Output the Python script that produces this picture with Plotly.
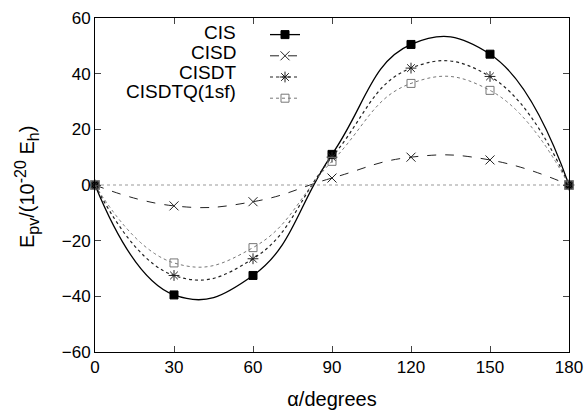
import plotly.graph_objects as go

alpha = [0, 30, 60, 90, 120, 150, 180]
cis = [0, -39.5, -32.5, 11, 50.5, 47, 0]
cisd = [0, -7.5, -6, 2.5, 10, 9, 0]
cisdt = [0, -32.5, -26.5, 10, 42, 39, 0]
cisdtq = [0, -28, -22.5, 8.5, 36.5, 34, 0]
names = ["CIS", "CISD", "CISDT", "CISDTQ(1sf)"]

series = [
    (cis, "square", "solid", "black", 1.3, 8),
    (cisd, "x-thin-open", "dash", "#222", 1.0, 9),
    (cisdt, "asterisk-open", "dot", "#222", 1.2, 9),
    (cisdtq, "square-open", "dot", "#777", 1.0, 8),
]

# screen target: plot area x 95..569, y 18..352 (body margin removed below)
W, H = 587, 413
L, T = 95, 18
pw, ph = 474, 334
R = W - L - pw
B = H - T - ph


def py2paper(py):
    return (T + ph - py) / ph


def px2paper(px):
    return (px - L) / pw


FAM = "Liberation Sans, Arial, sans-serif"

fig = go.Figure()
for name, (ys, sym, dash, col, w, ms) in zip(names, series):
    fig.add_trace(go.Scatter(
        x=alpha, y=ys, name=" ", legendgroup=name, hovertext=name,
        mode="lines+markers", cliponaxis=False,
        line=dict(color=col, width=w, dash=dash, shape="spline", smoothing=1.3),
        marker=dict(symbol=sym, size=ms, color="black" if sym == "square" else col,
                    line=dict(color="#444" if name == "CISDTQ(1sf)" else "black", width=1)),
    ))

fig.add_shape(type="line", x0=0, x1=180, y0=0, y1=0, xref="x", yref="y",
              line=dict(color="#999", width=1, dash="dot"), layer="below")

# legend labels (right-aligned, left of the samples, as in the reference)
row_px = [33, 52, 72, 91]
for name, py in zip(names, row_px):
    fig.add_annotation(text=name, xref="paper", yref="paper",
                       x=px2paper(238), y=py2paper(py),
                       xanchor="right", yanchor="middle", showarrow=False,
                       font=dict(size=19, family=FAM))

# y-axis title
fig.add_annotation(
    text=("E<sub><span style='font-size:16px'>pv</span></sub>/(10"
          "<sup><span style='font-size:16px'>-20</span></sup> "
          "E<sub><span style='font-size:16px'>h</span></sub>)"),
    xref="paper", yref="paper", x=px2paper(27), y=py2paper(187),
    xanchor="center", yanchor="middle", textangle=-90,
    showarrow=False, font=dict(size=20, family=FAM))

fig.update_layout(
    width=W, height=H,
    margin=dict(l=L, r=R, t=T, b=B, autoexpand=False),
    plot_bgcolor="white", paper_bgcolor="white",
    font=dict(family=FAM, size=17, color="black"),
    showlegend=True,
    legend=dict(x=px2paper(265), y=py2paper(19), xanchor="left", yanchor="top",
                bgcolor="rgba(0,0,0,0)", font=dict(size=14), itemwidth=30,
                tracegroupgap=0),
)
fig.update_xaxes(range=[0, 180], tickvals=[0, 30, 60, 90, 120, 150, 180],
                 ticks="inside", ticklen=6, mirror="ticks", showline=True,
                 linecolor="black", linewidth=1, showgrid=False, zeroline=False,
                 automargin=False, ticklabeloverflow="allow",
                 title=dict(text="α/degrees", font=dict(size=20)))
fig.update_yaxes(range=[-60, 60], tickvals=[-60, -40, -20, 0, 20, 40, 60],
                 ticks="inside", ticklen=6, mirror="ticks", showline=True,
                 linecolor="black", linewidth=1, showgrid=False, zeroline=False,
                 automargin=False, ticklabeloverflow="allow")

fig.write_html("out.html",
               config={"displayModeBar": False},
               post_script="document.body.style.margin='0';"
                           "document.body.style.overflow='hidden';")
